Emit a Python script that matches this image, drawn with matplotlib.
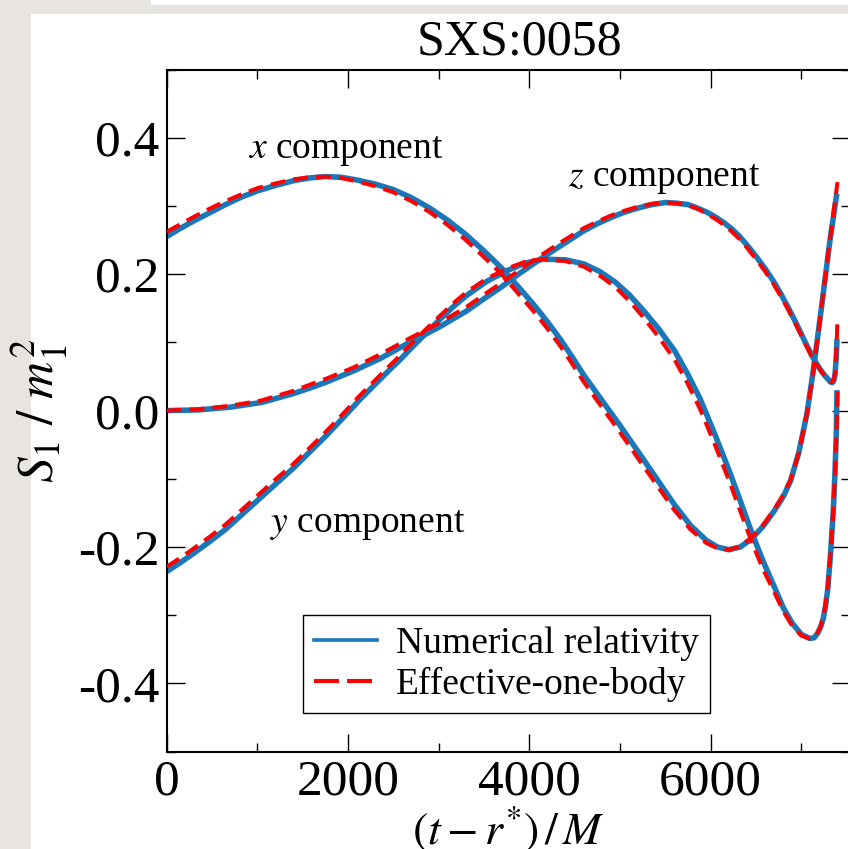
import matplotlib
matplotlib.use('Agg')
import matplotlib.pyplot as plt
from matplotlib.lines import Line2D
from matplotlib.patches import Rectangle
from matplotlib.ticker import MultipleLocator, FuncFormatter

plt.rcParams['font.family'] = ['Liberation Serif', 'DejaVu Serif']
plt.rcParams['mathtext.fontset'] = 'stix'

# ---------------- data ----------------
# x component
t_x_nr = [0, 150, 300, 475, 650, 825, 1000, 1200, 1400, 1575, 1750, 1925, 2100, 2300, 2500,
          2700, 2900, 3100, 3300, 3500, 3700, 3875, 4050, 4200, 4350, 4475, 4600, 4800, 5000,
          5250, 5425, 5600, 5775, 5950, 6075, 6200, 6325, 6450, 6575, 6700, 6800, 6880, 6970,
          7060, 7130, 7220, 7310, 7390]
s_x_nr = [0.255, 0.267, 0.278, 0.290, 0.302, 0.313, 0.322, 0.330, 0.337, 0.341, 0.343, 0.342,
          0.338, 0.332, 0.324, 0.312, 0.297, 0.279, 0.258, 0.234, 0.208, 0.182, 0.155, 0.130,
          0.103, 0.078, 0.052, 0.015, -0.022, -0.070, -0.104, -0.138, -0.168, -0.190, -0.200,
          -0.204, -0.200, -0.188, -0.170, -0.147, -0.126, -0.103, -0.062, -0.005, 0.058, 0.150,
          0.245, 0.318]
t_x_eob = [0, 150, 300, 475, 650, 825, 1000, 1200, 1400, 1575, 1750, 1925, 2100, 2300, 2500,
           2700, 2900, 3100, 3300, 3500, 3700, 3875, 4050, 4200, 4350, 4475, 4600, 4800, 5000,
           5250, 5425, 5600, 5775, 5950, 6075, 6200, 6325, 6450, 6575, 6700, 6800, 6880, 6970,
           7060, 7130, 7220, 7310, 7398]
s_x_eob = [0.262, 0.273, 0.284, 0.296, 0.307, 0.317, 0.326, 0.333, 0.339, 0.342, 0.343, 0.341,
           0.336, 0.329, 0.320, 0.307, 0.291, 0.272, 0.250, 0.225, 0.199, 0.172, 0.145, 0.120,
           0.093, 0.068, 0.042, 0.005, -0.032, -0.080, -0.113, -0.146, -0.174, -0.194, -0.202,
           -0.204, -0.199, -0.186, -0.168, -0.145, -0.123, -0.101, -0.062, -0.005, 0.058, 0.150,
           0.246, 0.335]

# y component
t_y_nr = [0, 150, 300, 475, 650, 825, 1000, 1200, 1400, 1575, 1750, 1950, 2130, 2280, 2430,
          2570, 2700, 2850, 3000, 3150, 3300, 3525, 3750, 3950, 4150, 4400, 4600, 4775, 4950,
          5100, 5250, 5425, 5600, 5740, 5880, 6040, 6200, 6325, 6450, 6575, 6700, 6800, 6900,
          7000, 7090, 7140, 7180, 7210, 7240, 7265, 7290, 7320, 7350, 7370, 7385, 7392]
s_y_nr = [-0.236, -0.223, -0.209, -0.192, -0.174, -0.153, -0.132, -0.108, -0.084, -0.061,
          -0.038, -0.010, 0.016, 0.036, 0.056, 0.074, 0.092, 0.112, 0.132, 0.151, 0.168, 0.189,
          0.205, 0.216, 0.222, 0.221, 0.215, 0.204, 0.188, 0.170, 0.148, 0.120, 0.088, 0.055,
          0.018, -0.033, -0.087, -0.132, -0.178, -0.220, -0.258, -0.289, -0.312, -0.328, -0.334,
          -0.333, -0.326, -0.318, -0.305, -0.287, -0.262, -0.212, -0.150, -0.092, -0.030, 0.030]
t_y_eob = [0, 150, 300, 475, 650, 825, 1000, 1200, 1400, 1575, 1750, 1950, 2130, 2280, 2430,
           2570, 2700, 2850, 3000, 3150, 3300, 3525, 3750, 3950, 4150, 4400, 4600, 4775, 4950,
           5100, 5250, 5425, 5600, 5740, 5880, 6040, 6200, 6325, 6450, 6575, 6700, 6800, 6900,
           7000, 7090, 7140, 7180, 7210, 7240, 7265, 7290, 7320, 7350, 7370, 7388, 7398]
s_y_eob = [-0.229, -0.216, -0.202, -0.185, -0.167, -0.146, -0.125, -0.101, -0.078, -0.055,
           -0.032, -0.004, 0.022, 0.042, 0.062, 0.080, 0.098, 0.118, 0.137, 0.156, 0.173, 0.193,
           0.208, 0.218, 0.222, 0.219, 0.211, 0.198, 0.181, 0.161, 0.138, 0.108, 0.075, 0.041,
           0.003, -0.048, -0.102, -0.147, -0.192, -0.232, -0.266, -0.294, -0.316, -0.330, -0.334,
           -0.332, -0.325, -0.316, -0.303, -0.285, -0.260, -0.210, -0.148, -0.090, -0.028, 0.032]

# z component
t_z_nr = [0, 350, 700, 1050, 1400, 1600, 1765, 2058, 2350, 2680, 3000, 3308, 3500, 3700, 3870,
          4043, 4200, 4350, 4594, 4750, 4900, 5050, 5200, 5350, 5500, 5625, 5750, 5850, 5955,
          6050, 6150, 6235, 6320, 6410, 6500, 6600, 6690, 6770, 6850, 6950, 7050, 7130, 7180,
          7220, 7260, 7300, 7320, 7340, 7355, 7370, 7385, 7392]
s_z_nr = [0.000, 0.001, 0.005, 0.012, 0.025, 0.034, 0.042, 0.058, 0.076, 0.100, 0.122, 0.146,
          0.164, 0.182, 0.199, 0.215, 0.229, 0.242, 0.263, 0.274, 0.283, 0.291, 0.297, 0.302,
          0.305, 0.304, 0.302, 0.297, 0.291, 0.284, 0.275, 0.266, 0.255, 0.241, 0.226, 0.208,
          0.190, 0.172, 0.152, 0.126, 0.098, 0.077, 0.066, 0.058, 0.051, 0.045, 0.042, 0.041,
          0.043, 0.052, 0.080, 0.105]
t_z_eob = [0, 350, 700, 1050, 1400, 1600, 1765, 2058, 2350, 2680, 3000, 3308, 3500, 3700, 3870,
           4043, 4200, 4350, 4594, 4750, 4900, 5050, 5200, 5350, 5500, 5625, 5750, 5850, 5955,
           6050, 6150, 6235, 6320, 6410, 6500, 6600, 6690, 6770, 6850, 6950, 7050, 7130, 7180,
           7220, 7260, 7300, 7320, 7340, 7355, 7370, 7388, 7398]
s_z_eob = [0.000, 0.002, 0.007, 0.015, 0.029, 0.039, 0.047, 0.063, 0.082, 0.106, 0.128, 0.152,
           0.170, 0.188, 0.204, 0.220, 0.234, 0.247, 0.267, 0.277, 0.286, 0.293, 0.299, 0.303,
           0.305, 0.304, 0.301, 0.296, 0.289, 0.281, 0.272, 0.262, 0.251, 0.237, 0.222, 0.204,
           0.186, 0.168, 0.149, 0.123, 0.096, 0.075, 0.065, 0.057, 0.050, 0.045, 0.042, 0.042,
           0.045, 0.055, 0.095, 0.138]

legend_labels = ['Numerical relativity', 'Effective-one-body']
component_labels = [r'$x$ component', r'$y$ component', r'$z$ component']
title_text = 'SXS:0058'

# ---------------- figure ----------------
W, H = 848, 849
fig = plt.figure(figsize=(W / 100, H / 100), dpi=100)
fig.patch.set_facecolor('#e8e5e0')
fig.patches.append(Rectangle((31 / W, 0), 1 - 31 / W, 1 - 14 / H, transform=fig.transFigure,
                             facecolor='white', edgecolor='none', zorder=-10))
fig.patches.append(Rectangle((151 / W, 1 - 5 / H), 1 - 151 / W, 5 / H, transform=fig.transFigure,
                             facecolor='white', edgecolor='none', zorder=-10))

ax = fig.add_axes([166.6 / W, 1 - 751.7 / H, (849.5 - 166.6) / W, (751.7 - 69.5) / H])

NR_COL = '#1a78b9'
EOB_COL = '#ff0000'
lw_nr = 4.0
lw_eob = 2.9
dash = (3.7, 2.0)

for t, s in [(t_x_nr, s_x_nr), (t_y_nr, s_y_nr), (t_z_nr, s_z_nr)]:
    ax.plot(t, s, color=NR_COL, lw=lw_nr, solid_capstyle='butt', solid_joinstyle='round', zorder=2)
for t, s in [(t_x_eob, s_x_eob), (t_y_eob, s_y_eob), (t_z_eob, s_z_eob)]:
    ax.plot(t, s, color=EOB_COL, lw=lw_eob, dashes=dash, dash_capstyle='butt', zorder=3)

ax.set_xlim(0, 7530)
ax.set_ylim(-0.5, 0.5)
ax.xaxis.set_major_locator(MultipleLocator(2000))
ax.xaxis.set_minor_locator(MultipleLocator(1000))
ax.yaxis.set_major_locator(MultipleLocator(0.2))
ax.yaxis.set_minor_locator(MultipleLocator(0.1))
ax.yaxis.set_major_formatter(FuncFormatter(lambda v, p: f'{v:.1f}'.replace('-0.0', '0.0')))
ax.xaxis.set_major_formatter(FuncFormatter(lambda v, p: f'{int(round(v))}'))

ax.tick_params(which='both', direction='in', top=True, right=True, width=1.0, labelsize=37)
ax.tick_params(which='major', length=13)
ax.tick_params(which='minor', length=6.5)
ax.tick_params(axis='y', pad=5)
ax.tick_params(axis='x', pad=5)
for sp in ax.spines.values():
    sp.set_linewidth(1.5)

ax.set_xlabel(r'$(t - r^{*})\,/\,M$', fontsize=33)
ax.xaxis.set_label_coords(0.5, -0.077)
ax.set_ylabel(r'$S_1\ /\ m_1^2$', fontsize=37)
ax.yaxis.set_label_coords(-0.1414, 0.5)

ax.text(0.516, 1.0213, title_text, transform=ax.transAxes, fontsize=36,
        ha='center', va='baseline')

ax.text(900, 0.370, component_labels[0], fontsize=27, ha='left', va='baseline')
ax.text(1142, -0.1775, component_labels[1], fontsize=27, ha='left', va='baseline')
ax.text(4429, 0.329, component_labels[2], fontsize=27, ha='left', va='baseline')

handles = [Line2D([], [], color=NR_COL, lw=2.6),
           Line2D([], [], color=EOB_COL, lw=2.9, dashes=(6.2, 2.0))]
leg = ax.legend(handles, legend_labels, loc='lower left', bbox_to_anchor=(0.1997, 0.0567),
                borderaxespad=0, fontsize=27, handlelength=1.68, handletextpad=0.5,
                borderpad=0.3, labelspacing=0.15, fancybox=False, framealpha=1,
                edgecolor='black')
leg.get_frame().set_linewidth(1.0)

fig.savefig('out.png', dpi=100)
